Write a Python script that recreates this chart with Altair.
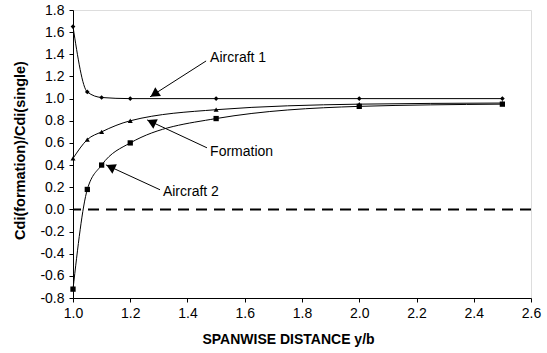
import altair as alt
import pandas as pd

# Data
x_vals = [1.0, 1.05, 1.1, 1.2, 1.5, 2.0, 2.5]
aircraft1 = [1.65, 1.06, 1.01, 1.00, 1.00, 1.00, 1.00]
formation = [0.46, 0.63, 0.70, 0.80, 0.90, 0.95, 0.96]
aircraft2 = [-0.72, 0.18, 0.40, 0.60, 0.82, 0.93, 0.95]

series_names = ["Aircraft 1", "Formation", "Aircraft 2"]
series_shapes = ["diamond", "triangle-up", "square"]

x_ticks = [1.0, 1.2, 1.4, 1.6, 1.8, 2.0, 2.2, 2.4, 2.6]
y_ticks = [-0.8, -0.6, -0.4, -0.2, 0.0, 0.2, 0.4, 0.6, 0.8, 1.0, 1.2, 1.4, 1.6, 1.8]

rows = []
for name, vals in zip(series_names, [aircraft1, formation, aircraft2]):
    for xv, yv in zip(x_vals, vals):
        rows.append({"x": xv, "y": yv, "series": name})
df = pd.DataFrame(rows)

# Annotations: label position, arrow start, arrow tip, arrow head position/angle
ann_labels = ["Aircraft 1", "Formation", "Aircraft 2"]
ann_text_x = [1.479, 1.479, 1.314]
ann_text_y = [1.367, 0.52, 0.159]
ann_start_x = [1.465, 1.468, 1.304]
ann_start_y = [1.34, 0.556, 0.177]
ann_tip_x = [1.269, 1.259, 1.115]
ann_tip_y = [1.016, 0.808, 0.402]
ann_head_x = [1.284, 1.274, 1.131]
ann_head_y = [1.04, 0.789, 0.383]
ann_head_angle = [237, 295, 295]

ann = pd.DataFrame({
    "label": ann_labels, "tx": ann_text_x, "ty": ann_text_y,
    "sx": ann_start_x, "sy": ann_start_y, "ex": ann_tip_x, "ey": ann_tip_y,
    "hx": ann_head_x, "hy": ann_head_y, "angle": ann_head_angle,
})

font = "Liberation Sans"
xscale = alt.Scale(domain=[1.0, 2.6], nice=False, zero=False)
yscale = alt.Scale(domain=[-0.8, 1.8], nice=False, zero=False)
label_expr = "replace(format(datum.value, '.1f'), '\u2212', '-')"

xax = alt.Axis(values=x_ticks, labelExpr=label_expr,
               grid=False, domainColor="black", tickColor="black", tickSize=4,
               labelFont=font, labelFontSize=14, labelColor="black", labelPadding=4,
               labelOverlap=False, labelFlush=False,
               title="SPANWISE DISTANCE y/b", titleFont=font, titleFontSize=14,
               titleFontWeight="bold", titleColor="black", titleX=215, titleY=41,
               titleBaseline="middle", titleAlign="center")
yax = alt.Axis(values=y_ticks, labelExpr=label_expr,
               grid=False, domainColor="black", tickColor="black", tickSize=4,
               labelFont=font, labelFontSize=14, labelColor="black", labelPadding=5,
               labelOverlap=False, labelFlush=False,
               title="Cdi(formation)/Cdi(single)", titleFont=font, titleFontSize=14.5,
               titleFontWeight="bold", titleColor="black", titleX=-53, titleY=140,
               titleBaseline="middle", titleAlign="center", titleAngle=-90)

lines = alt.Chart(df).mark_line(color="black", strokeWidth=1, interpolate="monotone").encode(
    x=alt.X("x:Q", scale=xscale, axis=xax),
    y=alt.Y("y:Q", scale=yscale, axis=yax),
    detail="series:N",
)

points = alt.Chart(df).mark_point(filled=True, color="black", opacity=1).encode(
    x=alt.X("x:Q", scale=xscale, axis=xax),
    y=alt.Y("y:Q", scale=yscale, axis=yax),
    shape=alt.Shape("series:N", scale=alt.Scale(domain=series_names, range=series_shapes), legend=None),
    size=alt.Size("series:N", scale=alt.Scale(domain=series_names, range=[22, 28, 28]), legend=None),
)

zero_line = alt.Chart(pd.DataFrame({"y": [0.0]})).mark_rule(
    color="black", strokeWidth=2, strokeDash=[11, 7]
).encode(y=alt.Y("y:Q", scale=yscale, axis=yax))

arrows = alt.Chart(ann).mark_rule(color="black", strokeWidth=1).encode(
    x=alt.X("sx:Q", scale=xscale, axis=xax), y=alt.Y("sy:Q", scale=yscale, axis=yax),
    x2="ex:Q", y2="ey:Q",
)

heads = alt.Chart(ann).mark_point(shape="triangle-up", filled=True, color="black",
                                  opacity=1, size=110).encode(
    x=alt.X("hx:Q", scale=xscale, axis=xax), y=alt.Y("hy:Q", scale=yscale, axis=yax),
    angle=alt.Angle("angle:Q", scale=None),
)

labels = alt.Chart(ann).mark_text(align="left", baseline="middle", font=font,
                                  fontSize=14, color="black", dx=0).encode(
    x=alt.X("tx:Q", scale=xscale, axis=xax), y=alt.Y("ty:Q", scale=yscale, axis=yax),
    text="label:N",
)

chart = alt.layer(zero_line, lines, points, arrows, heads, labels).properties(
    width=458, height=288,
    autosize=alt.AutoSizeParams(type="none"),
    padding={"left": 73, "top": 10, "right": 15, "bottom": 55},
).configure_view(
    stroke="#a0a0a0", strokeWidth=1.5
).configure_axis(
    labelOverlap=False
).configure(background="white")

chart.save("out.html", embed_options={"renderer": "svg", "actions": False})
